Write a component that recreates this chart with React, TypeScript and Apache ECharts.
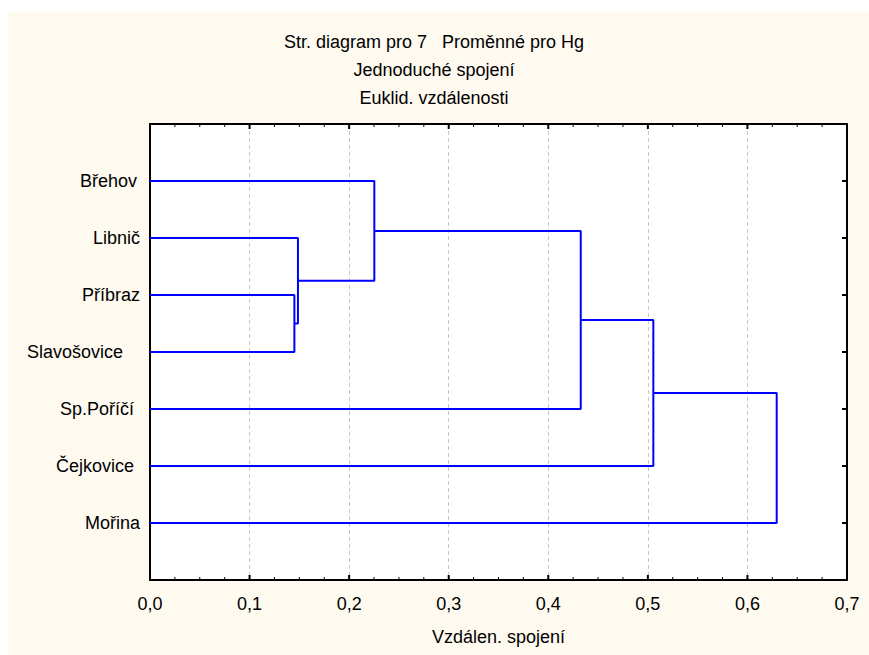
import React, { useEffect, useRef } from "react";
import * as echarts from "echarts";

// Leaves (top to bottom)
const leaves = ["Břehov", "Libnič", "Příbraz", "Slavošovice", "Sp.Poříčí", "Čejkovice", "Mořina"];
// Linkage steps: child A, child B (leaf name or "C<n>" = cluster of step n), linkage distance
const mergeA = ["Příbraz", "Libnič", "Břehov", "C2", "C3", "C4"];
const mergeB = ["Slavošovice", "C0", "C1", "Sp.Poříčí", "Čejkovice", "Mořina"];
const mergeDist = [0.145, 0.1486, 0.2253, 0.4326, 0.5055, 0.6294];
// Axis ticks
const xTickValues = [0, 0.1, 0.2, 0.3, 0.4, 0.5, 0.6, 0.7];
const xMinorPerMajor = 4;
const titles = ["Str. diagram pro 7   Proměnné pro Hg", "Jednoduché spojení", "Euklid. vzdálenosti"];
const xAxisName = "Vzdálen. spojení";

// label right padding (style only)
const labelPad = [3, 0, 0, 17, 6, 6, 0];

const FONT = "'Liberation Sans', Arial, sans-serif";
const FS = 18;
const GRID = { left: 142, top: 112, right: 22, bottom: 75 };
const W = 861;
const H = 643;

export default function App() {
  const ref = useRef<HTMLDivElement>(null);
  useEffect(() => {
    if (!ref.current) return;
    const chart = echarts.init(ref.current, undefined, { renderer: "svg" });

    const nodes: Record<string, { y: number; h: number }> = {};
    leaves.forEach((n, i) => (nodes[n] = { y: i + 1, h: 0 }));
    const series: any[] = [];
    mergeDist.forEach((d, i) => {
      const a = nodes[mergeA[i]];
      const b = nodes[mergeB[i]];
      nodes["C" + i] = { y: (a.y + b.y) / 2, h: d };
      series.push({
        type: "line",
        xAxisIndex: 0,
        yAxisIndex: 0,
        z: 3,
        data: [
          [a.h, a.y],
          [d, a.y],
          [d, b.y],
          [b.h, b.y],
        ],
        symbol: "none",
        lineStyle: { color: "#0000ff", width: 2 },
        silent: true,
      });
    });

    const xMin = xTickValues[0];
    const xMax = xTickValues[xTickValues.length - 1];
    const xInt = xTickValues[1] - xTickValues[0];
    const yMax = leaves.length + 1;

    const rich: any = {};
    leaves.forEach((_, i) => {
      rich["l" + i] = { fontSize: FS, fontFamily: FONT, color: "#000", padding: [0, labelPad[i], 0, 0] };
    });

    const axisLine = () => ({ show: true, onZero: false, lineStyle: { color: "#000", width: 2 } });
    const tick = () => ({ show: true, inside: true, length: 5, lineStyle: { color: "#000", width: 2 } });

    chart.setOption({
      animation: false,
      backgroundColor: "#fffaf0",
      title: titles.map((t, i) => ({
        text: t,
        left: 426,
        textAlign: "center",
        top: 21 + i * 28,
        padding: 0,
        textStyle: { fontSize: FS, fontWeight: "normal", fontFamily: FONT, color: "#000", lineHeight: FS },
      })),
      grid: { ...GRID, show: true, backgroundColor: "#ffffff", borderWidth: 0 },
      xAxis: [
        {
          type: "value",
          position: "bottom",
          min: xMin,
          max: xMax,
          interval: xInt,
          axisLine: axisLine(),
          axisTick: { show: false },
          axisLabel: {
            margin: 15,
            fontSize: FS,
            fontFamily: FONT,
            color: "#000",
            formatter: (v: number) => v.toFixed(1).replace(".", ","),
          },
          splitLine: { show: true, lineStyle: { color: "#c8c8c8", width: 1, type: [4, 3] } },
          name: xAxisName,
          nameLocation: "middle",
          nameGap: 48,
          nameTextStyle: { fontSize: FS, fontFamily: FONT, color: "#000" },
        },
        {
          type: "value",
          position: "top",
          min: xMin,
          max: xMax,
          interval: xInt,
          axisLine: axisLine(),
          axisTick: { show: false },
          axisLabel: { show: false },
          splitLine: { show: false },
        },
      ],
      yAxis: [
        {
          type: "value",
          position: "left",
          inverse: true,
          min: 0,
          max: yMax,
          interval: 1,
          axisLine: axisLine(),
          axisTick: tick(),
          axisLabel: {
            margin: 10,
            formatter: (v: number) => {
              const i = Math.round(v) - 1;
              return i >= 0 && i < leaves.length ? `{l${i}|${leaves[i]}}` : "";
            },
            rich,
          },
          splitLine: { show: false },
        },
        {
          type: "value",
          position: "right",
          inverse: true,
          min: 0,
          max: yMax,
          interval: 1,
          axisLine: axisLine(),
          axisTick: tick(),
          axisLabel: { show: false },
          splitLine: { show: false },
        },
      ],
      series,
    });

    // tick marks on the top and bottom frame, positioned through the axis scale
    const tickEls: any[] = [];
    const addTick = (v: number, major: boolean) => {
      const len = major ? 5 : 3;
      const lw = major ? 2 : 1;
      const top = chart.convertToPixel({ xAxisIndex: 0, yAxisIndex: 0 }, [v, 0]) as number[];
      const bot = chart.convertToPixel({ xAxisIndex: 0, yAxisIndex: 0 }, [v, yMax]) as number[];
      if (!top || !bot) return;
      tickEls.push({
        type: "line",
        z: 100,
        silent: true,
        shape: { x1: top[0], y1: top[1], x2: top[0], y2: top[1] + len },
        style: { stroke: "#000", lineWidth: lw },
      });
      tickEls.push({
        type: "line",
        z: 100,
        silent: true,
        shape: { x1: bot[0], y1: bot[1], x2: bot[0], y2: bot[1] - len },
        style: { stroke: "#000", lineWidth: lw },
      });
    };
    xTickValues.forEach((v, i) => {
      addTick(v, true);
      if (i < xTickValues.length - 1) {
        for (let k = 1; k < xMinorPerMajor; k++) addTick(v + (xInt * k) / xMinorPerMajor, false);
      }
    });
    chart.setOption({ graphic: tickEls });

    return () => chart.dispose();
  }, []);

  return (
    <div
      ref={ref}
      style={{ position: "absolute", left: 8, top: 12, width: W, height: H }}
    />
  );
}
